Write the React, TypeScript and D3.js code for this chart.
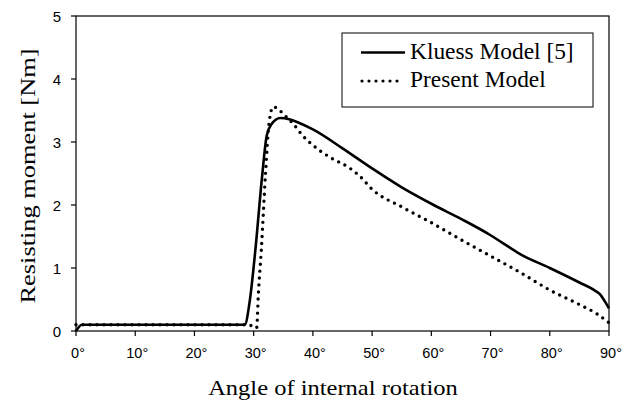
import React from "react";
import * as d3 from "d3";

const xTicks = [0, 10, 20, 30, 40, 50, 60, 70, 80, 90];
const yTicks = [0, 1, 2, 3, 4, 5];

const kluessAngle = [0, 1, 5, 10, 20, 28.5, 29.3, 30.3, 31.4, 32.2, 33, 34.5, 36, 37.5, 40, 45, 50, 55, 60, 65, 70, 72, 75, 80, 85, 87.5, 88.5, 89.3, 90];
const kluessMoment = [0, 0.1, 0.1, 0.1, 0.1, 0.1, 0.45, 1.3, 2.43, 3.1, 3.28, 3.38, 3.36, 3.31, 3.2, 2.9, 2.58, 2.28, 2.02, 1.78, 1.52, 1.4, 1.22, 1.0, 0.77, 0.65, 0.58, 0.47, 0.36];

const presentAngle = [0, 10, 20, 29, 30, 30.5, 30.8, 31.3, 32, 32.6, 33.3, 34.4, 35.4, 37.2, 38.1, 40, 43, 46, 48, 50, 55, 60, 65, 70, 75, 80, 85, 88, 90];
const presentMoment = [0.1, 0.1, 0.1, 0.1, 0.07, 0.05, 0.6, 1.3, 2.5, 3.3, 3.56, 3.5, 3.41, 3.23, 3.12, 2.95, 2.75, 2.6, 2.45, 2.25, 1.97, 1.72, 1.45, 1.19, 0.93, 0.65, 0.42, 0.27, 0.13];

const seriesNames = ["Kluess Model [5]", "Present Model"];

const W = 631;
const H = 402;
const left = 76;
const right = 609;
const top = 16;
const bottom = 331;

export default function App() {
  const x = d3.scaleLinear().domain([0, 90]).range([left, right]);
  const y = d3.scaleLinear().domain([0, 5]).range([bottom, top]);
  const line = d3
    .line<[number, number]>()
    .x((d) => x(d[0]))
    .y((d) => y(d[1]))
    .curve(d3.curveMonotoneX);
  const kData = kluessAngle.map((a, i) => [a, kluessMoment[i]] as [number, number]);
  const pData = presentAngle.map((a, i) => [a, presentMoment[i]] as [number, number]);
  const serif = "'Liberation Serif', 'Times New Roman', serif";
  const sans = "'Liberation Sans', Arial, sans-serif";
  return (
    <svg width={W} height={H} style={{ position: "absolute", left: 0, top: 0, background: "#fff" }}>
      <rect x={0} y={0} width={W} height={H} fill="#fff" />
      {/* frame */}
      <rect x={left} y={top} width={right - left} height={bottom - top} fill="none" stroke="#000" strokeWidth={1.2} />
      {/* y ticks */}
      {yTicks.map((t) => (
        <g key={"y" + t}>
          <line x1={left - 5} x2={left} y1={y(t)} y2={y(t)} stroke="#000" strokeWidth={1.2} />
          <text x={61} y={y(t) + 5.5} textAnchor="end" fontFamily={sans} fontSize={15} fill="#000">
            {t}
          </text>
        </g>
      ))}
      {/* x ticks */}
      {xTicks.map((t) => (
        <g key={"x" + t}>
          <line x1={x(t)} x2={x(t)} y1={bottom} y2={bottom + 5} stroke="#000" strokeWidth={1.2} />
          <text x={x(t) + 2} y={358} textAnchor="middle" fontFamily={sans} fontSize={14.5} fill="#000">
            {t + "°"}
          </text>
        </g>
      ))}
      {/* series */}
      <path d={line(kData) || ""} fill="none" stroke="#000" strokeWidth={2.6} strokeLinejoin="round" />
      <path d={line(pData) || ""} fill="none" stroke="#000" strokeWidth={3.4} strokeDasharray="0 7" strokeLinecap="round" />
      {/* axis titles */}
      <g transform="translate(333, 395) scale(1.14, 1)">
        <text x={0} y={0} textAnchor="middle" fontFamily={serif} fontSize={21.5} fill="#000">
          Angle of internal rotation
        </text>
      </g>
      <g transform="translate(35, 176) rotate(-90) scale(1.2, 1)">
        <text x={0} y={0} textAnchor="middle" fontFamily={serif} fontSize={22} fill="#000">
          Resisting moment [Nm]
        </text>
      </g>
      {/* legend */}
      <rect x={342} y={33} width={251} height={74} fill="#fff" stroke="#000" strokeWidth={1} />
      <line x1={361} x2={405} y1={52.5} y2={52.5} stroke="#000" strokeWidth={2.6} />
      <line x1={362} x2={404} y1={81} y2={81} stroke="#000" strokeWidth={3.2} strokeDasharray="0 7" strokeLinecap="round" />
      <g transform="translate(410, 59) scale(1.04, 1)">
        <text x={0} y={0} fontFamily={serif} fontSize={22.5} fill="#000">
          {seriesNames[0]}
        </text>
      </g>
      <g transform="translate(410, 87) scale(1.04, 1)">
        <text x={0} y={0} fontFamily={serif} fontSize={22.5} fill="#000">
          {seriesNames[1]}
        </text>
      </g>
    </svg>
  );
}
